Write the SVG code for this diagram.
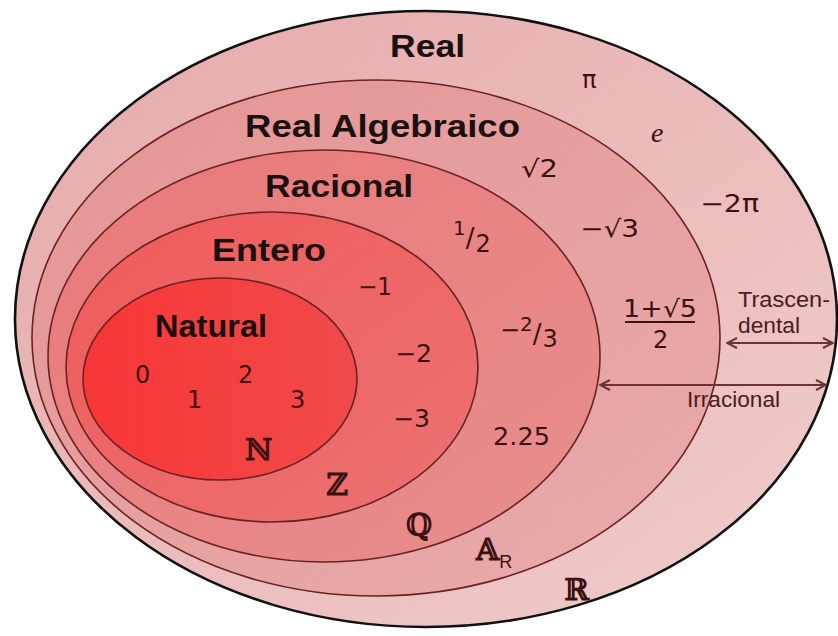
<svg xmlns="http://www.w3.org/2000/svg" width="838" height="636" viewBox="0 0 838 636">
<style>
.set{stroke:#6a2222;stroke-width:1.6}
.outer{stroke:#111;stroke-width:2.6}
.title{font-family:"Liberation Sans",Arial,sans-serif;font-weight:bold;font-size:32px;fill:#1a1010}
.num{font-family:"DejaVu Sans",sans-serif;font-size:24px;fill:#3c1010}
.sym{font-family:"DejaVu Serif",serif;font-weight:bold;font-size:30px;fill:#3a1010}
.small{font-family:"Liberation Sans",Arial,sans-serif;font-size:22px;fill:#4a1c1c}
.arr{stroke:#6a3434;stroke-width:2;fill:none}
</style>
<defs>
<linearGradient id="gReal" x1="0" y1="0" x2="1" y2="1"><stop offset="0" stop-color="#e6aaaa"/><stop offset="1" stop-color="#f0cccc"/></linearGradient>
<linearGradient id="gAlg" x1="0" y1="0" x2="1" y2="1"><stop offset="0" stop-color="#e49494"/><stop offset="1" stop-color="#e9acac"/></linearGradient>
<linearGradient id="gRac" x1="0" y1="0" x2="1" y2="1"><stop offset="0" stop-color="#e97878"/><stop offset="1" stop-color="#e88f8f"/></linearGradient>
<linearGradient id="gEnt" x1="0" y1="0" x2="1" y2="1"><stop offset="0" stop-color="#f05a5a"/><stop offset="1" stop-color="#ec7272"/></linearGradient>
<linearGradient id="gNat" x1="0" y1="0" x2="1" y2="0"><stop offset="0" stop-color="#f83636"/><stop offset="1" stop-color="#f04a4a"/></linearGradient>
<marker id="head" viewBox="0 0 12 12" refX="11" refY="6" markerWidth="12" markerHeight="12" markerUnits="userSpaceOnUse" orient="auto-start-reverse">
<path d="M1,1 L11,6 L1,11" fill="none" stroke="#6a3434" stroke-width="2"/>
</marker>
</defs>
<rect width="838" height="636" fill="#ffffff"/>
<g id="real">
<ellipse class="outer" cx="426" cy="319" rx="411" ry="308" fill="url(#gReal)"/>
<text class="title" x="390" y="57" textLength="75" lengthAdjust="spacingAndGlyphs">Real</text>
<text class="num" x="582" y="88" font-size="20">π</text>
<text x="651" y="142" font-family="Liberation Serif,serif" font-style="italic" font-size="28" fill="#3c1010">e</text>
<text class="num" x="700" y="212" textLength="59" lengthAdjust="spacingAndGlyphs">−2π</text>
<text class="small" x="738" y="307" textLength="92" lengthAdjust="spacingAndGlyphs">Trascen-</text>
<text class="small" x="738" y="333" textLength="62" lengthAdjust="spacingAndGlyphs">dental</text>
<text class="sym" x="564" y="600" font-size="29">ℝ</text>
</g>
<g id="algebraico">
<ellipse class="set" cx="376" cy="338" rx="344" ry="258" fill="url(#gAlg)"/>
<text class="title" x="245" y="137" textLength="275" lengthAdjust="spacingAndGlyphs">Real Algebraico</text>
<text class="num" x="521" y="177" textLength="37" lengthAdjust="spacingAndGlyphs">√2</text>
<text class="num" x="580" y="237" textLength="59" lengthAdjust="spacingAndGlyphs">−√3</text>
<text class="num" x="623" y="317" textLength="74" lengthAdjust="spacingAndGlyphs">1+√5</text>
<line x1="625" y1="322" x2="695" y2="322" stroke="#3c1010" stroke-width="2.2"/>
<text class="num" x="653" y="348">2</text>
<text class="sym" x="476" y="560" font-size="29">𝔸<tspan font-family="Liberation Sans,Arial,sans-serif" font-weight="normal" font-size="18" dy="8">R</tspan></text>
</g>
<g id="racional">
<ellipse class="set" cx="324" cy="356" rx="276" ry="206" fill="url(#gRac)"/>
<text class="title" x="265" y="197" textLength="148" lengthAdjust="spacingAndGlyphs">Racional</text>
<text class="num" x="453" y="235"><tspan font-size="20">1</tspan><tspan dy="12" font-size="26">/</tspan><tspan dx="1" dy="5" font-size="24">2</tspan></text>
<text class="num" x="500" y="338">−<tspan dy="-7" font-size="20">2</tspan><tspan dy="12" font-size="26">/</tspan><tspan dx="1" dy="4" font-size="24">3</tspan></text>
<text class="num" x="493" y="445" textLength="57" lengthAdjust="spacingAndGlyphs">2.25</text>
<text class="sym" x="406" y="535" font-size="29">ℚ</text>
</g>
<g id="entero">
<ellipse class="set" cx="272" cy="367" rx="206" ry="155" fill="url(#gEnt)"/>
<text class="title" x="212" y="261" textLength="114" lengthAdjust="spacingAndGlyphs">Entero</text>
<text class="num" x="358" y="295" textLength="34" lengthAdjust="spacingAndGlyphs">−1</text>
<text class="num" x="395" y="362" textLength="37" lengthAdjust="spacingAndGlyphs">−2</text>
<text class="num" x="393" y="427" textLength="37" lengthAdjust="spacingAndGlyphs">−3</text>
<text class="sym" x="326" y="495" font-size="29">ℤ</text>
</g>
<g id="natural">
<ellipse class="set" cx="220" cy="379" rx="137" ry="101" fill="url(#gNat)"/>
<text class="title" x="155" y="337" textLength="112" lengthAdjust="spacingAndGlyphs">Natural</text>
<text class="num" x="135" y="383">0</text>
<text class="num" x="238" y="383">2</text>
<text class="num" x="187" y="408">1</text>
<text class="num" x="290" y="408">3</text>
<text class="sym" x="245" y="460" font-size="29">ℕ</text>
</g>
<g id="connectors">
<line class="arr" x1="727" y1="343" x2="833" y2="343" marker-start="url(#head)" marker-end="url(#head)"/>
<line class="arr" x1="600" y1="385" x2="826" y2="385" marker-start="url(#head)" marker-end="url(#head)"/>
<text class="small" x="687" y="407" textLength="93" lengthAdjust="spacingAndGlyphs">Irracional</text>
</g>
</svg>
